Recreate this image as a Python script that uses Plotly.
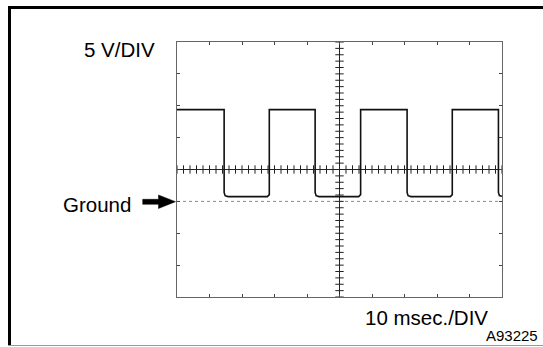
import numpy as np
import plotly.graph_objects as go

# ---- data ----
fall_times_ms = [14.5, 42.5, 70.8, 98.9]   # falling edges
rise_times_ms = [28.4, 56.5, 84.7]         # rising edges
high_level_v = 14.4
low_level_v = 0.75
ground_v = 0.0
x_range_ms = [0, 100]        # 10 ms/DIV, 10 divisions
y_range_v = [-15, 25]        # 5 V/DIV, 8 divisions, ground one div below centre
ms_per_div = 10
v_per_div = 5

# ---- build the trace path from edge times ----
t, v = [x_range_ms[0]], [high_level_v]
edges = sorted([(f, "fall") for f in fall_times_ms] + [(r, "rise") for r in rise_times_ms])
for time, kind in edges:
    if kind == "fall":
        t += [time, time, time + 0.3, time + 1.2]
        v += [high_level_v, low_level_v + 0.65, low_level_v + 0.15, low_level_v]
    else:
        t += [time - 0.6, time, time]
        v += [low_level_v, low_level_v + 0.3, high_level_v]
# clip to the screen
tt, vv = [], []
for a, b in zip(t, v):
    if a <= x_range_ms[1]:
        tt.append(a); vv.append(b)
if tt[-1] < x_range_ms[1]:
    tt.append(x_range_ms[1]); vv.append(low_level_v + 0.05)

W, H = 543, 347
L, R, T, B = 177, 41, 42, 50
PW, PH = W - L - R, H - T - B

def px(xp):
    return (xp - L) / PW

def py(yp):
    return (H - B - yp) / PH

fig = go.Figure()

x_c = (x_range_ms[0] + x_range_ms[1]) / 2
y_c = (y_range_v[0] + y_range_v[1]) / 2

# centre graticule lines
fig.add_trace(go.Scatter(x=x_range_ms, y=[y_c, y_c], mode="lines",
                         line=dict(color="#222", width=1), hoverinfo="skip", showlegend=False))
fig.add_trace(go.Scatter(x=[x_c, x_c], y=y_range_v, mode="lines",
                         line=dict(color="#222", width=1), hoverinfo="skip", showlegend=False))
# ground line
fig.add_trace(go.Scatter(x=x_range_ms, y=[ground_v, ground_v], mode="lines",
                         line=dict(color="#8a8a8a", width=1, dash="dot"), hoverinfo="skip", showlegend=False))
# minor ticks on centre lines (5 per division)
xt = np.arange(x_range_ms[0], x_range_ms[1] + 0.01, ms_per_div / 5)
yt = np.arange(y_range_v[0], y_range_v[1] + 0.01, v_per_div / 5)
fig.add_trace(go.Scatter(x=xt, y=[y_c] * len(xt), mode="markers",
                         marker=dict(symbol="line-ns", size=6, line=dict(color="#222", width=1)),
                         hoverinfo="skip", showlegend=False))
fig.add_trace(go.Scatter(x=[x_c] * len(yt), y=yt, mode="markers",
                         marker=dict(symbol="line-ew", size=6, line=dict(color="#222", width=1)),
                         hoverinfo="skip", showlegend=False))
# waveform
fig.add_trace(go.Scatter(x=tt, y=vv, mode="lines",
                         line=dict(color="#111", width=1.6), hoverinfo="skip", showlegend=False))

axis_common = dict(showgrid=False, zeroline=False, showticklabels=False,
                   ticks="inside", ticklen=3, tickcolor="#444", showline=True,
                   linecolor="#666", linewidth=1, mirror="ticks", fixedrange=True)
fig.update_xaxes(range=x_range_ms, tick0=0, dtick=ms_per_div, **axis_common)
fig.update_yaxes(range=y_range_v, tick0=y_range_v[0], dtick=v_per_div, **axis_common)

font = "Liberation Sans, Arial, sans-serif"
shapes = [
    # outer frame
    dict(type="line", xref="paper", yref="paper", x0=px(8), x1=px(543), y0=py(7.5), y1=py(7.5),
         line=dict(color="black", width=3)),
    dict(type="line", xref="paper", yref="paper", x0=px(9.5), x1=px(9.5), y0=py(6), y1=py(346),
         line=dict(color="black", width=3)),
    dict(type="line", xref="paper", yref="paper", x0=px(8), x1=px(543), y0=py(345.5), y1=py(345.5),
         line=dict(color="#999", width=1)),
]
# arrow pointing at ground
pts = [(142.7, 199.3), (158.5, 199.3), (158.5, 195), (175.5, 201.7), (158.5, 208.5),
       (158.5, 204.3), (142.7, 204.3)]
path = "M " + " L ".join(f"{px(a):.5f},{py(b):.5f}" for a, b in pts) + " Z"
shapes.append(dict(type="path", xref="paper", yref="paper", path=path,
                   fillcolor="black", line=dict(color="black", width=0.5)))

annotations = [
    dict(text="5 V/DIV", x=px(82), y=py(49), xref="paper", yref="paper",
         xanchor="left", yanchor="middle", showarrow=False,
         font=dict(family=font, size=20.5, color="black")),
    dict(text="Ground", x=px(61), y=py(204), xref="paper", yref="paper",
         xanchor="left", yanchor="middle", showarrow=False,
         font=dict(family=font, size=20.5, color="black")),
    dict(text="10 msec./DIV", x=px(490), y=py(317), xref="paper", yref="paper",
         xanchor="right", yanchor="middle", showarrow=False,
         font=dict(family=font, size=20.5, color="black")),
    dict(text="A93225", x=px(539.5), y=py(335.5), xref="paper", yref="paper",
         xanchor="right", yanchor="middle", showarrow=False,
         font=dict(family=font, size=15, color="black")),
]

fig.update_layout(width=W, height=H, margin=dict(l=L, r=R, t=T, b=B, pad=0),
                  paper_bgcolor="white", plot_bgcolor="white",
                  shapes=shapes, annotations=annotations, showlegend=False)

fig.write_html("out.html", config={"displayModeBar": False})
